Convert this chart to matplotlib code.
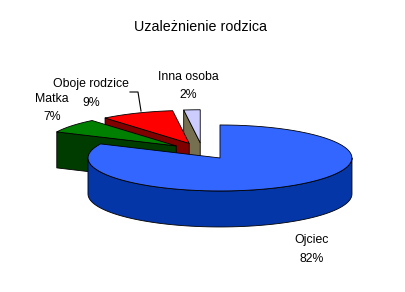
import numpy as np
import matplotlib
matplotlib.use("Agg")
import matplotlib.pyplot as plt
from matplotlib.patches import Polygon

plt.rcParams["font.family"] = ["Liberation Sans", "DejaVu Sans"]

# data
categories = ["Ojciec", "Matka", "Oboje rodzice", "Inna osoba"]
shares = [82, 7, 9, 2]
top_colors = ["#3366FF", "#008000", "#FF0000", "#CCCCFF"]
side_colors = ["#0536A8", "#003C00", "#800000", "#777050"]
title = "Uzależnienie rodzica"

# layout (pixel space of the 406x292 figure)
W, H = 406, 292
cx, cy = 202.3, 151.0
rx, ry, depth = 132.0, 33.0, 36.0
explode = 0.25
label_pos = [(312, 240), (52, 99), (91, 84), (188, 77)]
leader = [(130, 92), (138, 92), (141, 111)]

fig = plt.figure(figsize=(W / 100, H / 100), dpi=100)
ax = fig.add_axes([0, 0, 1, 1])
ax.set_xlim(0, W)
ax.set_ylim(H, 0)
ax.axis("off")


def pt(ox, oy, theta, z=0.0, r=1.0):
    t = np.radians(theta)
    return ox + r * rx * np.cos(t), oy - r * ry * np.sin(t) + z


def arc(ox, oy, a, b, z=0.0, n=80):
    th = np.linspace(a, b, n)
    return [pt(ox, oy, t, z) for t in th]


total = float(sum(shares))
slices = []
start = 90.0
for i, v in enumerate(shares):
    t2 = start
    t1 = start - v / total * 360.0
    start = t1
    if t2 <= -180:
        t1 += 360
        t2 += 360
    mid = np.radians((t1 + t2) / 2)
    ox = cx + explode * rx * np.cos(mid)
    oy = cy - explode * ry * np.sin(mid)
    slices.append((i, t1, t2, ox, oy))

# back to front
slices.sort(key=lambda s: s[4])

for i, t1, t2, ox, oy in slices:
    kw = dict(edgecolor="black", linewidth=0.6, joinstyle="round")
    # visible part of the curved side (front half of the ellipse)
    for lo, hi in [(-540, -360), (-180, 0), (180, 360)]:
        a, b = max(t1, lo), min(t2, hi)
        if b > a:
            poly = arc(ox, oy, a, b) + arc(ox, oy, b, a, depth)
            ax.add_patch(Polygon(poly, closed=True, facecolor=side_colors[i], **kw))
    # radial faces that point towards the viewer
    for t, vis in [(t2, np.cos(np.radians(t2)) < -1e-6), (t1, np.cos(np.radians(t1)) > 1e-6)]:
        if vis:
            p = pt(ox, oy, t)
            poly = [(ox, oy), p, (p[0], p[1] + depth), (ox, oy + depth)]
            ax.add_patch(Polygon(poly, closed=True, facecolor=side_colors[i], **kw))
    top = [(ox, oy)] + arc(ox, oy, t1, t2)
    ax.add_patch(Polygon(top, closed=True, facecolor=top_colors[i], **kw))

ax.plot([p[0] for p in leader], [p[1] for p in leader], color="black", lw=0.8)

for i, name in enumerate(categories):
    x, y = label_pos[i]
    ax.text(x, y, name, ha="center", va="center", fontsize=8.8)
    ax.text(x, y + 18.5, f"{shares[i]}%", ha="center", va="center", fontsize=8.8)

ax.text(201, 27, title, ha="center", va="center", fontsize=10.3)

fig.savefig("out.png", dpi=100, facecolor="white")
